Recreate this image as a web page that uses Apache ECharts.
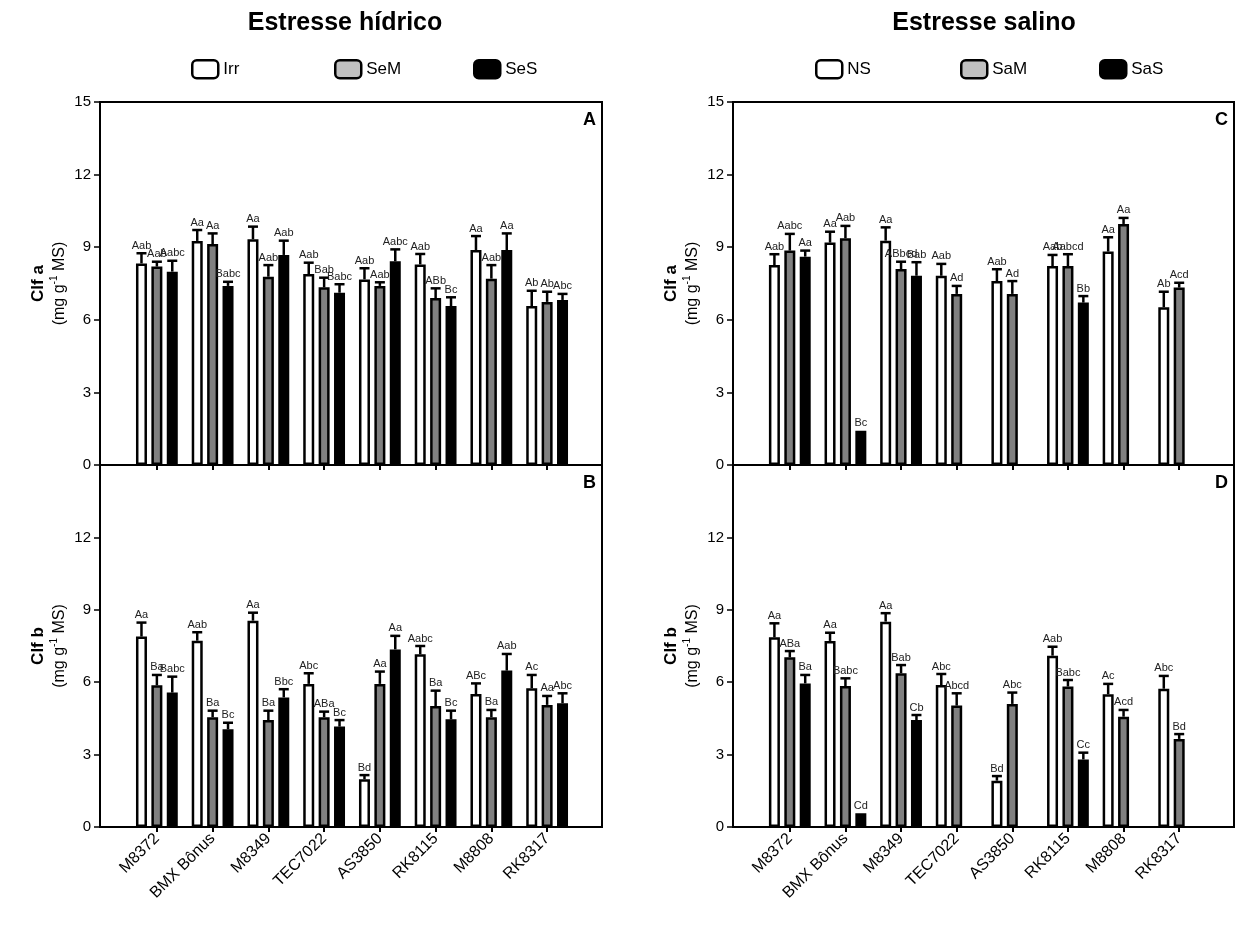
<!DOCTYPE html>
<html>
<head>
<meta charset="utf-8">
<script src="https://cdn.jsdelivr.net/npm/echarts@6/dist/echarts.min.js"></script>
<style>html,body{margin:0;padding:0;background:#fff}#c{width:1238px;height:931px}</style>
</head>
<body>
<div id="c"></div>
<script>
const categories = ['M8372','BMX Bônus','M8349','TEC7022','AS3850','RK8115','M8808','RK8317'];
const yTicks = [0,3,6,9,12,15];

// Panel A - Clf a, water stress
const A_Irr = [8.33, 9.26, 9.33, 7.89, 7.67, 8.29, 8.88, 6.57];
const A_Irr_err = [0.42, 0.45, 0.52, 0.47, 0.46, 0.43, 0.58, 0.63];
const A_Irr_lab = ['Aab','Aa','Aa','Aab','Aab','Aab','Aa','Ab'];
const A_SeM = [8.20, 9.13, 7.78, 7.34, 7.40, 6.90, 7.70, 6.74];
const A_SeM_err = [0.20, 0.44, 0.48, 0.40, 0.15, 0.40, 0.56, 0.42];
const A_SeM_lab = ['Aab','Aa','Aab','Bab','Aab','ABb','Aab','Ab'];
const A_SeS = [7.99, 7.40, 8.68, 7.12, 8.42, 6.57, 8.88, 6.82];
const A_SeS_err = [0.45, 0.17, 0.59, 0.35, 0.49, 0.36, 0.69, 0.25];
const A_SeS_lab = ['Aabc','Babc','Aab','Babc','Aabc','Bc','Aa','Abc'];

// Panel B - Clf b, water stress
const B_Irr = [7.89, 7.72, 8.55, 5.93, 1.98, 7.16, 5.51, 5.75];
const B_Irr_err = [0.58, 0.35, 0.33, 0.44, 0.17, 0.34, 0.44, 0.55];
const B_Irr_lab = ['Aa','Aab','Aa','Abc','Bd','Aabc','ABc','Ac'];
const B_SeM = [5.87, 4.55, 4.43, 4.55, 5.93, 5.01, 4.55, 5.06];
const B_SeM_err = [0.43, 0.27, 0.39, 0.23, 0.51, 0.64, 0.30, 0.37];
const B_SeM_lab = ['Ba','Ba','Ba','ABa','Aa','Ba','Ba','Aa'];
const B_SeS = [5.57, 4.05, 5.37, 4.16, 7.36, 4.46, 6.48, 5.13];
const B_SeS_err = [0.66, 0.27, 0.34, 0.27, 0.56, 0.36, 0.69, 0.41];
const B_SeS_lab = ['Babc','Bc','Bbc','Bc','Aa','Bc','Aab','Abc'];

// Panel C - Clf a, salt stress
const C_NS = [8.26, 9.19, 9.27, 7.82, 7.60, 8.22, 8.82, 6.52];
const C_NS_err = [0.45, 0.45, 0.55, 0.49, 0.49, 0.46, 0.59, 0.64];
const C_NS_lab = ['Aab','Aa','Aa','Aab','Aab','Aab','Aa','Ab'];
const C_SaM = [8.86, 9.37, 8.10, 7.07, 7.07, 8.22, 9.96, 7.33];
const C_SaM_err = [0.69, 0.51, 0.30, 0.33, 0.53, 0.49, 0.25, 0.20];
const C_SaM_lab = ['Aabc','Aab','ABbcd','Ad','Ad','Aabcd','Aa','Acd'];
const C_SaS = [8.61, 1.42, 7.82, null, null, 6.71, null, null];
const C_SaS_err = [0.25, null, 0.56, null, null, 0.27, null, null];
const C_SaS_lab = ['Aa','Bc','Bab','','','Bb','',''];

// Panel D - Clf b, salt stress
const D_NS = [7.86, 7.71, 8.51, 5.88, 1.92, 7.10, 5.50, 5.73];
const D_NS_err = [0.58, 0.34, 0.35, 0.46, 0.19, 0.37, 0.43, 0.53];
const D_NS_lab = ['Aa','Aa','Aa','Abc','Bd','Aab','Ac','Abc'];
const D_SaM = [7.03, 5.84, 6.37, 5.03, 5.10, 5.82, 4.57, 3.65];
const D_SaM_err = [0.26, 0.32, 0.34, 0.51, 0.47, 0.27, 0.28, 0.20];
const D_SaM_lab = ['ABa','Babc','Bab','Abcd','Abc','Babc','Acd','Bd'];
const D_SaS = [5.95, 0.57, 4.43, null, null, 2.80, null, null];
const D_SaS_err = [0.35, null, 0.21, null, null, 0.28, null, null];
const D_SaS_lab = ['Ba','Cd','Cb','','','Cc','',''];

const FONT = '"Liberation Sans", Arial, Helvetica, sans-serif';
const FILLS = ['#ffffff', '#808080', '#000000'];
const BAR_W = 11, BAR_GAP = 0.4;

const chart = echarts.init(document.getElementById('c'), null, {renderer: 'canvas'});

const frames = [
  {left: 100, top: 102, width: 502, height: 363},
  {left: 100, top: 465, width: 502, height: 362},
  {left: 733, top: 102, width: 501, height: 363},
  {left: 733, top: 465, width: 501, height: 362}
];
const barGrids = [
  {left: 129, top: 102, width: 446, height: 363},
  {left: 129, top: 465, width: 446, height: 362},
  {left: 762, top: 102, width: 445, height: 363},
  {left: 762, top: 465, width: 445, height: 362}
];

const grid = [];
const xAxis = [];
const yAxis = [];
const yName = ['{b|Clf a}\n{n|(mg g}{s|-1}{n| MS)}', '{b|Clf b}\n{n|(mg g}{s|-1}{n| MS)}'];
frames.forEach((f, p) => {
  grid.push(Object.assign({show: true, borderColor: '#000', borderWidth: 2, backgroundColor: 'transparent', containLabel: false}, f));
  xAxis.push({type: 'value', gridIndex: p, min: 0, max: 1, show: false});
  const lower = (p === 1 || p === 3);
  yAxis.push({
    type: 'value', gridIndex: p, min: 0, max: 15, interval: 3,
    axisLine: {show: false},
    axisTick: {show: true, length: 6, lineStyle: {color: '#000', width: 1.5}},
    splitLine: {show: false},
    axisLabel: {color: '#000', fontSize: 15, fontFamily: FONT, margin: 9,
      formatter: v => (lower && v === 15) ? '' : String(v)},
    name: yName[lower ? 1 : 0],
    nameLocation: 'middle', nameRotate: 90, nameGap: 30,
    nameTextStyle: {
      color: '#000', fontFamily: FONT, align: 'center',
      rich: {
        b: {fontSize: 17, fontWeight: 'bold', lineHeight: 21, fontFamily: FONT, color: '#000'},
        n: {fontSize: 16, lineHeight: 21, fontFamily: FONT, color: '#000'},
        s: {fontSize: 10, lineHeight: 12, verticalAlign: 'top', fontFamily: FONT, color: '#000'}
      }
    }
  });
});
barGrids.forEach((g, p) => {
  grid.push(Object.assign({show: false, containLabel: false}, g));
  const lower = (p === 1 || p === 3);
  xAxis.push({
    type: 'category', gridIndex: 4 + p, data: categories,
    axisLine: {show: false},
    axisTick: {show: true, alignWithLabel: true, length: 5, lineStyle: {color: '#000', width: 2}},
    axisLabel: {show: lower, rotate: 45, interval: 0, color: '#000', fontSize: 16, fontFamily: FONT, margin: 9}
  });
  yAxis.push({type: 'value', gridIndex: 4 + p, min: 0, max: 15, show: false});
});

const series = [];
function addPanel(p, names, vals, errs, labs) {
  for (let k = 0; k < 3; k++) {
    series.push({
      type: 'bar', name: names[k], xAxisIndex: 4 + p, yAxisIndex: 4 + p,
      data: vals[k], barWidth: BAR_W, barGap: (BAR_GAP * 100) + '%',
      itemStyle: {color: FILLS[k], borderColor: '#000', borderWidth: 2.5},
      emphasis: {disabled: true}, animation: false, z: 2
    });
  }
  for (let k = 0; k < 3; k++) {
    const off = (k - 1) * BAR_W * (1 + BAR_GAP);
    const lab = labs[k];
    const data = [];
    vals[k].forEach((v, i) => { if (v != null) data.push([i, v, errs[k][i] == null ? 0 : errs[k][i]]); });
    series.push({
      type: 'custom', xAxisIndex: 4 + p, yAxisIndex: 4 + p, data: data, z: 5, silent: true, animation: false,
      renderItem: function (params, api) {
        const i = api.value(0), v = api.value(1), e = api.value(2);
        const base = api.coord([i, v]);
        const x = base[0] + off;
        const yTop = api.coord([i, v + e])[1];
        const ch = [];
        if (e > 0) {
          ch.push({type: 'line', shape: {x1: x, y1: base[1], x2: x, y2: yTop}, style: {stroke: '#000', lineWidth: 2.5}});
          ch.push({type: 'line', shape: {x1: x - 5, y1: yTop, x2: x + 5, y2: yTop}, style: {stroke: '#000', lineWidth: 2.5}});
        }
        ch.push({type: 'text', x: x, y: yTop - 2,
          style: {text: lab[i], fontSize: 11, fontFamily: FONT, fill: '#222', align: 'center', verticalAlign: 'bottom'}});
        return {type: 'group', children: ch};
      }
    });
  }
}
addPanel(0, ['Irr','SeM','SeS'], [A_Irr, A_SeM, A_SeS], [A_Irr_err, A_SeM_err, A_SeS_err], [A_Irr_lab, A_SeM_lab, A_SeS_lab]);
addPanel(1, ['Irr','SeM','SeS'], [B_Irr, B_SeM, B_SeS], [B_Irr_err, B_SeM_err, B_SeS_err], [B_Irr_lab, B_SeM_lab, B_SeS_lab]);
addPanel(2, ['NS','SaM','SaS'], [C_NS, C_SaM, C_SaS], [C_NS_err, C_SaM_err, C_SaS_err], [C_NS_lab, C_SaM_lab, C_SaS_lab]);
addPanel(3, ['NS','SaM','SaS'], [D_NS, D_SaM, D_SaS], [D_NS_err, D_SaM_err, D_SaS_err], [D_NS_lab, D_SaM_lab, D_SaS_lab]);

const legendItems = [
  {name: 'Irr', color: '#ffffff', left: 191},
  {name: 'SeM', color: '#c0c0c0', left: 334},
  {name: 'SeS', color: '#000000', left: 473},
  {name: 'NS', color: '#ffffff', left: 815},
  {name: 'SaM', color: '#c0c0c0', left: 960},
  {name: 'SaS', color: '#000000', left: 1099}
];
const legend = legendItems.map(it => ({
  left: it.left, top: 59, selectedMode: false, padding: 0,
  itemWidth: 26, itemHeight: 18, icon: 'roundRect',
  data: [{name: it.name, itemStyle: {color: it.color, borderColor: '#000', borderWidth: 2.5}}],
  textStyle: {color: '#000', fontSize: 17, fontFamily: FONT}
}));

chart.setOption({
  backgroundColor: '#fff',
  animation: false,
  grid: grid, xAxis: xAxis, yAxis: yAxis, series: series, legend: legend,
  graphic: [
    {type: 'text', x: 345, y: 23, style: {text: 'Estresse hídrico', font: 'bold 25px ' + FONT, fill: '#000', align: 'center', verticalAlign: 'middle'}},
    {type: 'text', x: 984, y: 23, style: {text: 'Estresse salino', font: 'bold 25px ' + FONT, fill: '#000', align: 'center', verticalAlign: 'middle'}},
    {type: 'text', right: 1238 - 596, top: 111, style: {text: 'A', font: 'bold 18px ' + FONT, fill: '#000'}},
    {type: 'text', right: 1238 - 596, top: 474, style: {text: 'B', font: 'bold 18px ' + FONT, fill: '#000'}},
    {type: 'text', right: 1238 - 1228, top: 111, style: {text: 'C', font: 'bold 18px ' + FONT, fill: '#000'}},
    {type: 'text', right: 1238 - 1228, top: 474, style: {text: 'D', font: 'bold 18px ' + FONT, fill: '#000'}}
  ]
});
</script>
</body>
</html>
